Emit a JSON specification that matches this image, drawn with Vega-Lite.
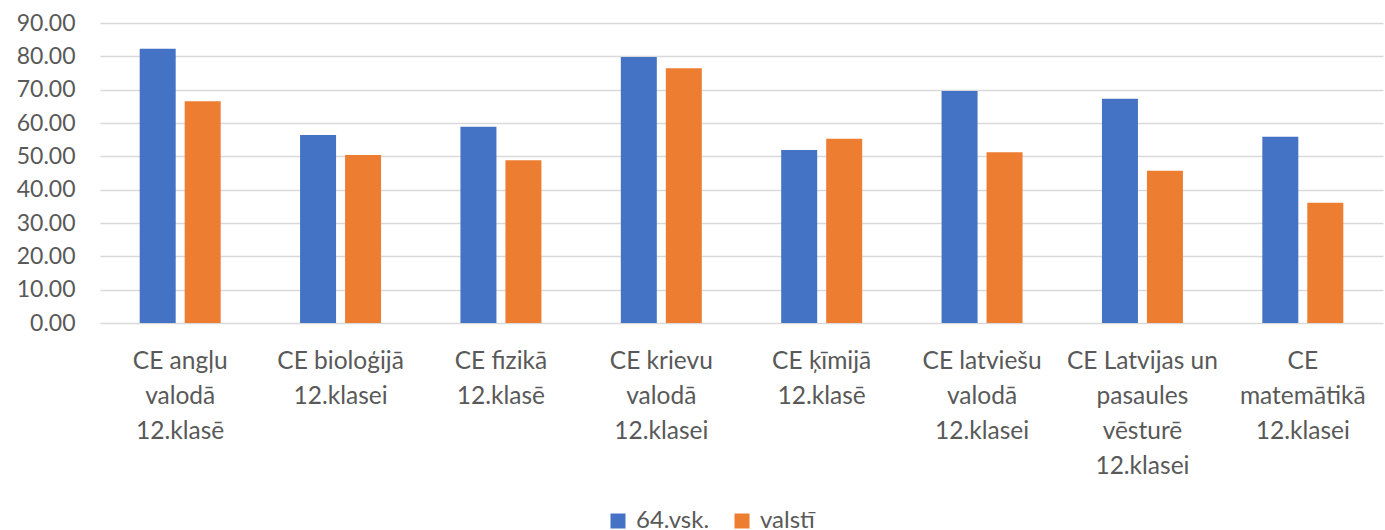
{
  "$schema": "https://vega.github.io/schema/vega-lite/v6.json",
  "width": 1283,
  "height": 300,
  "autosize": "none",
  "padding": {"left": 100, "top": 23, "right": 2, "bottom": 207},
  "background": "white",
  "config": {
    "view": {"stroke": null},
    "font": "Lato",
    "axis": {"labelFont": "Lato", "labelColor": "#595959"},
    "legend": {"labelFont": "Lato", "labelColor": "#595959"}
  },
  "data": {
    "values": [
      {"subject": "CE angļu valodā 12.klasē", "series": "64.vsk.", "value": 82.3},
      {"subject": "CE angļu valodā 12.klasē", "series": "valstī", "value": 66.5},
      {"subject": "CE bioloģijā 12.klasei", "series": "64.vsk.", "value": 56.4},
      {"subject": "CE bioloģijā 12.klasei", "series": "valstī", "value": 50.4},
      {"subject": "CE fizikā 12.klasē", "series": "64.vsk.", "value": 58.9},
      {"subject": "CE fizikā 12.klasē", "series": "valstī", "value": 48.8},
      {"subject": "CE krievu valodā 12.klasei", "series": "64.vsk.", "value": 79.8},
      {"subject": "CE krievu valodā 12.klasei", "series": "valstī", "value": 76.4},
      {"subject": "CE ķīmijā 12.klasē", "series": "64.vsk.", "value": 51.9},
      {"subject": "CE ķīmijā 12.klasē", "series": "valstī", "value": 55.3},
      {"subject": "CE latviešu valodā 12.klasei", "series": "64.vsk.", "value": 69.6},
      {"subject": "CE latviešu valodā 12.klasei", "series": "valstī", "value": 51.2},
      {"subject": "CE Latvijas un pasaules vēsturē 12.klasei", "series": "64.vsk.", "value": 67.3},
      {"subject": "CE Latvijas un pasaules vēsturē 12.klasei", "series": "valstī", "value": 45.7},
      {"subject": "CE matemātikā 12.klasei", "series": "64.vsk.", "value": 55.9},
      {"subject": "CE matemātikā 12.klasei", "series": "valstī", "value": 36.1}
    ]
  },
  "mark": {"type": "bar"},
  "encoding": {
    "x": {
      "field": "subject",
      "type": "nominal",
      "sort": null,
      "title": null,
      "scale": {"paddingInner": 0.495, "paddingOuter": 0.2475},
      "axis": {
        "domain": false,
        "ticks": false,
        "labelAngle": 0,
        "labelFontSize": 24.5,
        "labelPadding": 26,
        "labelBaseline": "top",
        "labelLineHeight": 35,
        "labelLimit": 0,
        "labelExpr": "{'CE angļu valodā 12.klasē': ['CE angļu', 'valodā', '12.klasē'], 'CE bioloģijā 12.klasei': ['CE bioloģijā', '12.klasei'], 'CE fizikā 12.klasē': ['CE fizikā', '12.klasē'], 'CE krievu valodā 12.klasei': ['CE krievu', 'valodā', '12.klasei'], 'CE ķīmijā 12.klasē': ['CE ķīmijā', '12.klasē'], 'CE latviešu valodā 12.klasei': ['CE latviešu', 'valodā', '12.klasei'], 'CE Latvijas un pasaules vēsturē 12.klasei': ['CE Latvijas un', 'pasaules', 'vēsturē', '12.klasei'], 'CE matemātikā 12.klasei': ['CE', 'matemātikā', '12.klasei']}[datum.value]"
      }
    },
    "xOffset": {
      "field": "series",
      "type": "nominal",
      "sort": ["64.vsk.", "valstī"],
      "scale": {"paddingInner": 0.2, "paddingOuter": 0}
    },
    "y": {
      "field": "value",
      "type": "quantitative",
      "title": null,
      "scale": {"domain": [0, 90], "nice": false},
      "axis": {
        "values": [0, 10, 20, 30, 40, 50, 60, 70, 80, 90],
        "format": ".2f",
        "domain": false,
        "ticks": false,
        "labelFontSize": 23,
        "labelPadding": 25,
        "grid": true,
        "gridColor": "#D9D9D9",
        "gridWidth": 1.5
      }
    },
    "color": {
      "field": "series",
      "type": "nominal",
      "scale": {"domain": ["64.vsk.", "valstī"], "range": ["#4472C4", "#ED7D31"]},
      "legend": {
        "title": null,
        "orient": "none",
        "direction": "horizontal",
        "legendX": 506,
        "legendY": 486,
        "symbolType": "square",
        "symbolSize": 225,
        "symbolStrokeWidth": 0,
        "labelFontSize": 24,
        "labelOffset": 6,
        "columnPadding": 20
      }
    }
  }
}
